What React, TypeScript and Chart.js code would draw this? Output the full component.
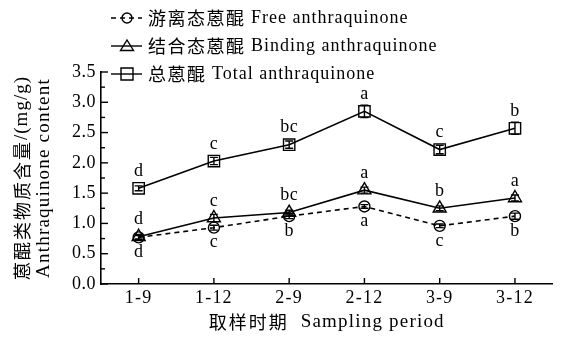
import React, { useEffect, useRef } from "react";
import { Chart, registerables } from "chart.js";

Chart.register(...registerables);

const categories = ["1-9", "1-12", "2-9", "2-12", "3-9", "3-12"];
const freeValues = [0.77, 0.93, 1.12, 1.28, 0.96, 1.12];
const freeErrors = [0.03, 0.04, 0.04, 0.03, 0.03, 0.05];
const bindingValues = [0.78, 1.09, 1.18, 1.55, 1.25, 1.42];
const bindingErrors = [0.04, 0.06, 0.04, 0.05, 0.04, 0.05];
const totalValues = [1.58, 2.03, 2.3, 2.85, 2.22, 2.57];
const totalErrors = [0.04, 0.06, 0.06, 0.1, 0.07, 0.1];
const freeLetters = ["d", "c", "b", "a", "c", "b"];
const bindingLetters = ["d", "c", "bc", "a", "b", "a"];
const totalLetters = ["d", "c", "bc", "a", "c", "b"];
const legendCn = ["游离态蒽醌", "结合态蒽醌", "总蒽醌"];
const legendEn = ["Free anthraquinone", "Binding anthraquinone", "Total anthraquinone"];
const yTitleCn = "蒽醌类物质含量";
const yTitleUnit = "/(mg/g)";
const yTitleEn = "Anthraquinone content";
const xTitleCn = "取样时期";
const xTitleEn = "Sampling period";

const SERIF = "'Liberation Serif', 'DejaVu Serif', serif";
const CJK = "'Noto Sans CJK SC', sans-serif";

type Part = { text: string; font: string; spacing: number };

function measureParts(ctx: CanvasRenderingContext2D, parts: Part[]) {
  let w = 0;
  for (const p of parts) {
    ctx.font = p.font;
    (ctx as any).letterSpacing = p.spacing + "px";
    w += ctx.measureText(p.text).width;
  }
  return w;
}

function drawParts(
  ctx: CanvasRenderingContext2D,
  parts: Part[],
  x: number,
  y: number,
  align: "left" | "center" | "right"
) {
  const w = measureParts(ctx, parts);
  let cx = align === "left" ? x : align === "center" ? x - w / 2 : x - w;
  ctx.textAlign = "left";
  ctx.textBaseline = "middle";
  for (const p of parts) {
    ctx.font = p.font;
    (ctx as any).letterSpacing = p.spacing + "px";
    ctx.fillText(p.text, cx, y);
    cx += ctx.measureText(p.text).width;
  }
  (ctx as any).letterSpacing = "0px";
}

function drawMarker(ctx: CanvasRenderingContext2D, style: string, x: number, y: number) {
  ctx.beginPath();
  if (style === "circle") {
    ctx.arc(x, y, 5, 0, Math.PI * 2);
  } else if (style === "triangle") {
    ctx.moveTo(x, y - 6);
    ctx.lineTo(x + 6.5, y + 4.5);
    ctx.lineTo(x - 6.5, y + 4.5);
    ctx.closePath();
  } else {
    ctx.rect(x - 6, y - 6, 12, 12);
  }
  ctx.stroke();
}

const decorPlugin = {
  id: "decor",
  afterDatasetsDraw(chart: any) {
    const ctx: CanvasRenderingContext2D = chart.ctx;
    const xs = chart.scales.x;
    const ys = chart.scales.y;
    const area = chart.chartArea;
    ctx.save();
    ctx.strokeStyle = "#000";
    ctx.fillStyle = "#000";
    ctx.lineWidth = 1.4;
    ctx.setLineDash([]);

    // error bars and letters
    const series = [
      { v: freeValues, e: freeErrors, l: freeLetters, below: true, half: 5 },
      { v: bindingValues, e: bindingErrors, l: bindingLetters, below: false, half: 6 },
      { v: totalValues, e: totalErrors, l: totalLetters, below: false, half: 6 },
    ];
    for (const s of series) {
      s.v.forEach((val, i) => {
        const px = xs.getPixelForValue(i);
        const top = ys.getPixelForValue(val + s.e[i]);
        const bot = ys.getPixelForValue(val - s.e[i]);
        const py = ys.getPixelForValue(val);
        ctx.beginPath();
        ctx.moveTo(px, top);
        ctx.lineTo(px, bot);
        ctx.moveTo(px - 4, top);
        ctx.lineTo(px + 4, top);
        ctx.moveTo(px - 4, bot);
        ctx.lineTo(px + 4, bot);
        ctx.stroke();
        const edgeTop = Math.min(top, py - s.half);
        const edgeBot = Math.max(bot, py + s.half);
        const ly = s.below ? edgeBot + 10 : edgeTop - 11;
        drawParts(ctx, [{ text: s.l[i], font: "18px " + SERIF, spacing: 0.5 }], px, ly, "center");
      });
    }

    // inward ticks on y axis
    for (let v = 0; v <= 3.5001; v += 0.25) {
      const py = ys.getPixelForValue(v);
      const major = Math.abs(v * 2 - Math.round(v * 2)) < 1e-6;
      ctx.beginPath();
      ctx.moveTo(area.left, py);
      ctx.lineTo(area.left + (major ? 7 : 4), py);
      ctx.stroke();
    }
    // y tick labels
    ys.ticks.forEach((t: any) => {
      const py = ys.getPixelForValue(t.value);
      drawParts(ctx, [{ text: Number(t.value).toFixed(1), font: "18px " + SERIF, spacing: 0.5 }], area.left - 5, py, "right");
    });
    // x ticks and labels
    categories.forEach((c, i) => {
      const px = xs.getPixelForValue(i);
      ctx.beginPath();
      ctx.moveTo(px, area.bottom);
      ctx.lineTo(px, area.bottom - 6);
      ctx.stroke();
      drawParts(ctx, [{ text: c, font: "18px " + SERIF, spacing: 1.2 }], px, area.bottom + 14, "center");
    });

    // x title
    drawParts(
      ctx,
      [
        { text: xTitleCn, font: "18px " + CJK, spacing: 2 },
        { text: "  " + xTitleEn, font: "19px " + SERIF, spacing: 1.2 },
      ],
      (area.left + area.right) / 2,
      322,
      "center"
    );

    // y title
    ctx.save();
    ctx.translate(22, (area.top + area.bottom) / 2);
    ctx.rotate(-Math.PI / 2);
    drawParts(
      ctx,
      [
        { text: yTitleCn, font: "18px " + CJK, spacing: 2 },
        { text: yTitleUnit, font: "19px " + SERIF, spacing: 1 },
      ],
      0,
      0,
      "center"
    );
    ctx.restore();
    ctx.save();
    ctx.translate(44, (area.top + area.bottom) / 2);
    ctx.rotate(-Math.PI / 2);
    drawParts(ctx, [{ text: yTitleEn, font: "19px " + SERIF, spacing: 1.2 }], 0, 0, "center");
    ctx.restore();

    // legend
    const styles = ["circle", "triangle", "rect"];
    const rows = [18, 46, 74];
    styles.forEach((st, i) => {
      const ry = rows[i];
      ctx.lineWidth = 1.4;
      ctx.setLineDash(i === 0 ? [5, 4] : []);
      ctx.beginPath();
      ctx.moveTo(111, ry);
      ctx.lineTo(142, ry);
      ctx.stroke();
      ctx.setLineDash([]);
      drawMarker(ctx, st, 127, ry);
      drawParts(
        ctx,
        [
          { text: legendCn[i], font: "18px " + CJK, spacing: 1.5 },
          { text: " " + legendEn[i], font: "18px " + SERIF, spacing: 1 },
        ],
        148,
        ry,
        "left"
      );
    });
    ctx.restore();
  },
};

export default function App() {
  const ref = useRef<HTMLCanvasElement | null>(null);
  useEffect(() => {
    document.body.style.margin = "0";
    const canvas = ref.current;
    if (!canvas) return;
    const common = {
      borderColor: "#000",
      borderWidth: 1.6,
      pointBorderColor: "#000",
      pointBackgroundColor: "rgba(0,0,0,0)",
      pointBorderWidth: 1.4,
      tension: 0,
      fill: false,
    };
    const chart = new Chart(canvas, {
      type: "line",
      data: {
        labels: categories,
        datasets: [
          { ...common, label: legendEn[0], data: freeValues, borderDash: [5, 4], pointStyle: "circle", pointRadius: 5.5 },
          { ...common, label: legendEn[1], data: bindingValues, pointStyle: "triangle", pointRadius: 7.5 },
          { ...common, label: legendEn[2], data: totalValues, pointStyle: "rect", pointRadius: 8 },
        ],
      },
      options: {
        animation: false,
        responsive: false,
        devicePixelRatio: 1,
        layout: { padding: { top: 72, right: 1, left: 0, bottom: 0 } },
        plugins: { legend: { display: false }, tooltip: { enabled: false } },
        scales: {
          x: {
            type: "category",
            offset: true,
            grid: { display: false },
            border: { display: true, color: "#000", width: 1.6 },
            ticks: { display: false },
            afterFit: (s: any) => {
              s.height = 53;
            },
          },
          y: {
            min: 0,
            max: 3.5,
            grid: { display: false },
            border: { display: true, color: "#000", width: 1.6 },
            ticks: { display: false, stepSize: 0.5 },
            afterFit: (s: any) => {
              s.width = 101;
            },
          },
        },
      },
      plugins: [decorPlugin],
    });
    return () => chart.destroy();
  }, []);
  return <canvas ref={ref} width={562} height={337} style={{ display: "block" }} />;
}
